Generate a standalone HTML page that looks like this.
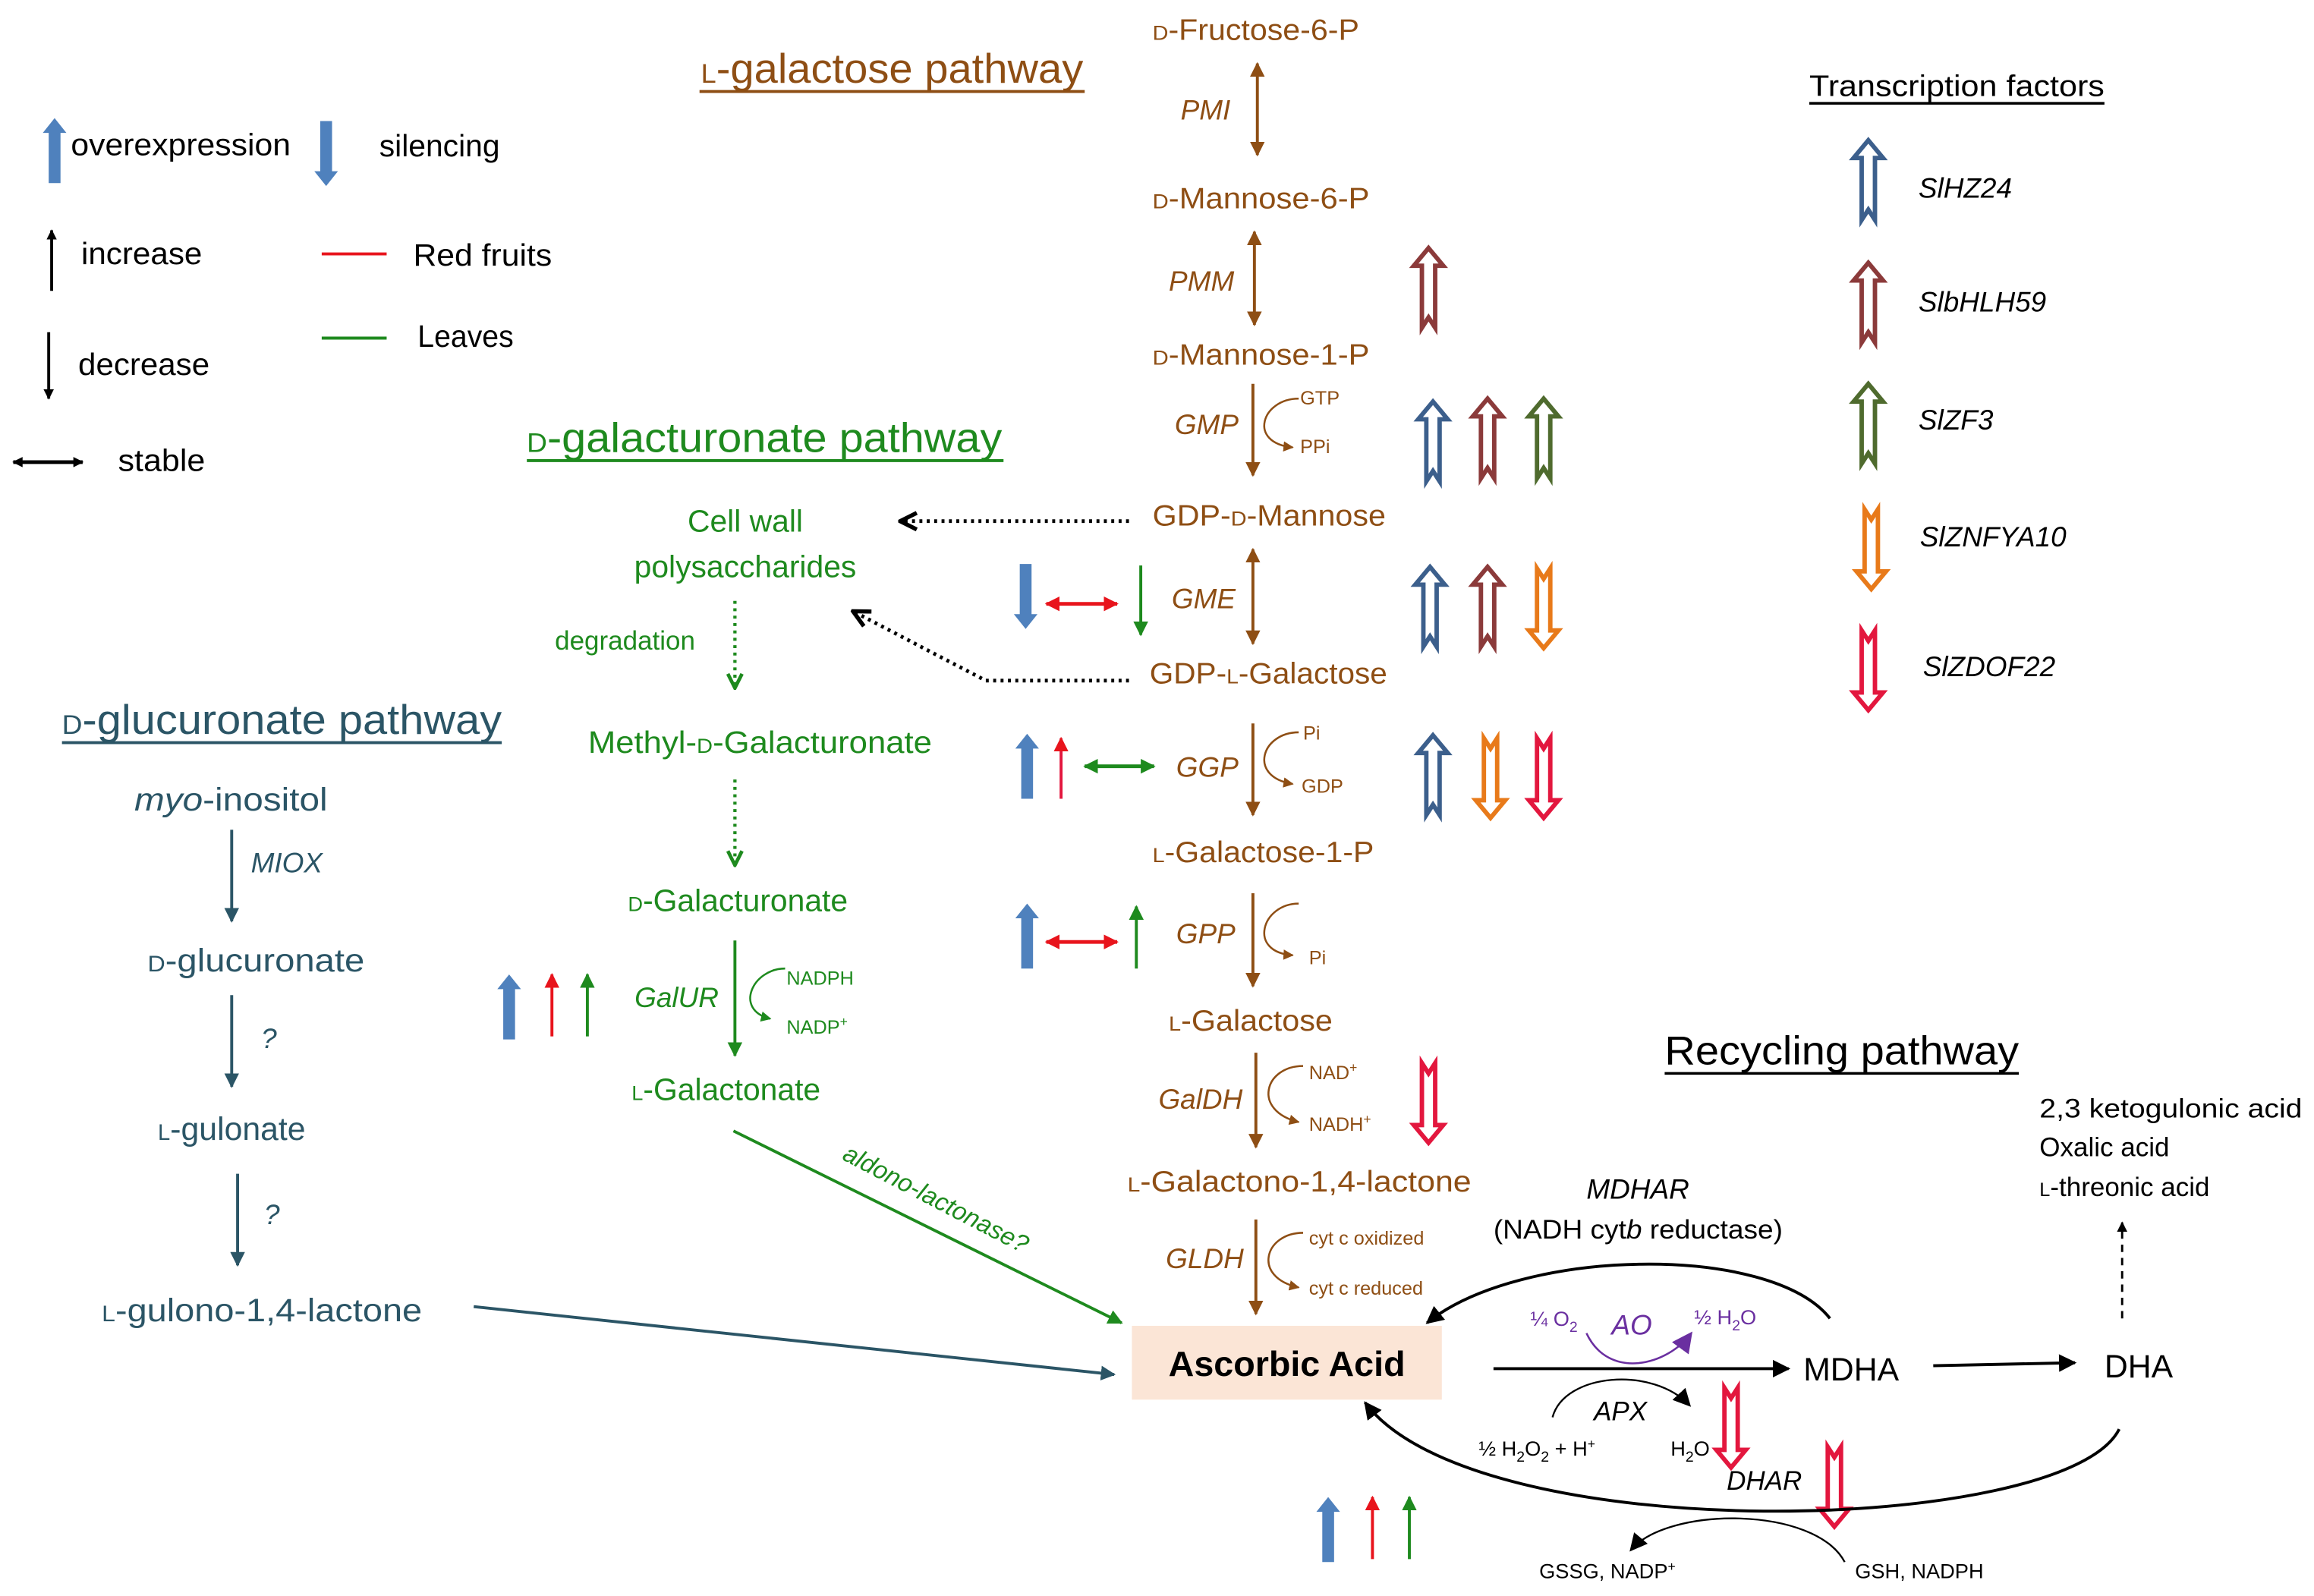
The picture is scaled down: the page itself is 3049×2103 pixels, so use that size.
<!DOCTYPE html>
<html><head><meta charset="utf-8"><style>
html,body{margin:0;padding:0;background:#fff;}
svg{display:block;}
text{font-family:"Liberation Sans",sans-serif;}
.br{fill:#8E4E14;}
.gr{fill:#1E8A1E;}
.tl{fill:#2B5566;}
.it{font-style:italic;}
</style></head><body>
<svg width="3049" height="2103" viewBox="0 0 1568 1081" preserveAspectRatio="none" xmlns="http://www.w3.org/2000/svg">
<defs>
<marker id="mk" viewBox="0 0 10 10" refX="9" refY="5" markerWidth="7" markerHeight="7" orient="auto-start-reverse" markerUnits="userSpaceOnUse"><path d="M0,0L10,5L0,10z" fill="#000"/></marker>
<marker id="mkB" viewBox="0 0 10 10" refX="9" refY="5" markerWidth="12" markerHeight="12" orient="auto-start-reverse" markerUnits="userSpaceOnUse"><path d="M0,0L10,5L0,10z" fill="#000"/></marker>
<marker id="mbr" viewBox="0 0 10 10" refX="9" refY="5" markerWidth="10" markerHeight="10" orient="auto-start-reverse" markerUnits="userSpaceOnUse"><path d="M0,0L10,5L0,10z" fill="#8E4E14"/></marker>
<marker id="mbrs" viewBox="0 0 10 10" refX="9" refY="5" markerWidth="7" markerHeight="7" orient="auto" markerUnits="userSpaceOnUse"><path d="M0,0L10,5L0,10z" fill="#8E4E14"/></marker>
<marker id="mgr" viewBox="0 0 10 10" refX="9" refY="5" markerWidth="10" markerHeight="10" orient="auto-start-reverse" markerUnits="userSpaceOnUse"><path d="M0,0L10,5L0,10z" fill="#1E8A1E"/></marker>
<marker id="mgrs" viewBox="0 0 10 10" refX="9" refY="5" markerWidth="7" markerHeight="7" orient="auto" markerUnits="userSpaceOnUse"><path d="M0,0L10,5L0,10z" fill="#1E8A1E"/></marker>
<marker id="mgro" viewBox="0 0 10 10" refX="9" refY="5" markerWidth="12" markerHeight="12" orient="auto" markerUnits="userSpaceOnUse"><path d="M1,1L9,5L1,9" fill="none" stroke="#1E8A1E" stroke-width="2"/></marker>
<marker id="mko" viewBox="0 0 10 10" refX="9" refY="5" markerWidth="14" markerHeight="14" orient="auto" markerUnits="userSpaceOnUse"><path d="M1,1L9,5L1,9" fill="none" stroke="#000" stroke-width="2"/></marker>
<marker id="mtl" viewBox="0 0 10 10" refX="9" refY="5" markerWidth="10" markerHeight="10" orient="auto" markerUnits="userSpaceOnUse"><path d="M0,0L10,5L0,10z" fill="#2B5566"/></marker>
<marker id="mrd" viewBox="0 0 10 10" refX="9" refY="5" markerWidth="10" markerHeight="10" orient="auto-start-reverse" markerUnits="userSpaceOnUse"><path d="M0,0L10,5L0,10z" fill="#E8141C"/></marker>
<marker id="mpu" viewBox="0 0 10 10" refX="9" refY="5" markerWidth="14" markerHeight="14" orient="auto" markerUnits="userSpaceOnUse"><path d="M0,0L10,5L0,10z" fill="#6A2FA0"/></marker>
<g id="tfu"><path d="M0,0 L10,12 L4.5,12 L4.5,54 L0,47 L-4.5,54 L-4.5,12 L-10,12 Z" fill="#fff" stroke-width="3" stroke-linejoin="miter"/></g>
<g id="tfd"><path d="M0,54 L10,42 L4.5,42 L4.5,0 L0,7 L-4.5,0 L-4.5,42 L-10,42 Z" fill="#fff" stroke-width="3" stroke-linejoin="miter"/></g>
<g id="bu"><path d="M-4,44 L-4,10 L-8,10 L0,0 L8,10 L4,10 L4,44Z" fill="#4F81BD"/></g>
<g id="bd"><path d="M-4,0 L-4,34 L-8,34 L0,44 L8,34 L4,34 L4,0Z" fill="#4F81BD"/></g>
</defs>

<!-- Legend -->
<use href="#bu" x="37" y="80"/>
<text x="48" y="105" font-size="21" textLength="149" lengthAdjust="spacingAndGlyphs">overexpression</text>
<use href="#bd" x="221" y="82"/>
<text x="257" y="106" font-size="21">silencing</text>
<line x1="35" y1="197" x2="35" y2="156" stroke="#000" stroke-width="2" marker-end="url(#mk)"/>
<text x="55" y="179" font-size="21" textLength="82" lengthAdjust="spacingAndGlyphs">increase</text>
<line x1="218" y1="172" x2="262" y2="172" stroke="#E8141C" stroke-width="2"/>
<text x="280" y="180" font-size="21" textLength="94" lengthAdjust="spacingAndGlyphs">Red fruits</text>
<line x1="218" y1="229" x2="262" y2="229" stroke="#1E8A1E" stroke-width="2"/>
<text x="283" y="235" font-size="21" textLength="65" lengthAdjust="spacingAndGlyphs">Leaves</text>
<line x1="33" y1="225" x2="33" y2="270" stroke="#000" stroke-width="2" marker-end="url(#mk)"/>
<text x="53" y="254" font-size="21" textLength="89" lengthAdjust="spacingAndGlyphs">decrease</text>
<line x1="9" y1="313" x2="56" y2="313" stroke="#000" stroke-width="2.5" marker-start="url(#mk)" marker-end="url(#mk)"/>
<text x="80" y="319" font-size="21" textLength="59" lengthAdjust="spacingAndGlyphs">stable</text>

<!-- L-galactose title -->
<text x="475" y="56" font-size="28" class="br" textLength="259" lengthAdjust="spacingAndGlyphs"><tspan font-size="18">L</tspan>-galactose pathway</text>
<line x1="474" y1="62" x2="735" y2="62" stroke="#8E4E14" stroke-width="2"/>

<!-- Brown column -->
<g font-size="20" class="br">
<text x="781" y="27" textLength="140" lengthAdjust="spacingAndGlyphs"><tspan font-size="14">D</tspan>-Fructose-6-P</text>
<text x="781" y="141" textLength="147" lengthAdjust="spacingAndGlyphs"><tspan font-size="14">D</tspan>-Mannose-6-P</text>
<text x="781" y="247" textLength="147" lengthAdjust="spacingAndGlyphs"><tspan font-size="14">D</tspan>-Mannose-1-P</text>
<text x="781" y="356" textLength="158" lengthAdjust="spacingAndGlyphs">GDP-<tspan font-size="14">D</tspan>-Mannose</text>
<text x="779" y="463" textLength="161" lengthAdjust="spacingAndGlyphs">GDP-<tspan font-size="14">L</tspan>-Galactose</text>
<text x="781" y="584" textLength="150" lengthAdjust="spacingAndGlyphs"><tspan font-size="14">L</tspan>-Galactose-1-P</text>
<text x="792" y="698" textLength="111" lengthAdjust="spacingAndGlyphs"><tspan font-size="14">L</tspan>-Galactose</text>
<text x="764" y="807" textLength="233" lengthAdjust="spacingAndGlyphs"><tspan font-size="14">L</tspan>-Galactono-1,4-lactone</text>
</g>
<g font-size="19" class="br it">
<text x="800" y="81">PMI</text>
<text x="792" y="197">PMM</text>
<text x="796" y="294">GMP</text>
<text x="794" y="412">GME</text>
<text x="797" y="526">GGP</text>
<text x="797" y="639">GPP</text>
<text x="785" y="751">GalDH</text>
<text x="790" y="859">GLDH</text>
</g>
<g stroke="#8E4E14" stroke-width="2" fill="none">
<line x1="852" y1="43" x2="852" y2="105" marker-start="url(#mbr)" marker-end="url(#mbr)"/>
<line x1="850" y1="157" x2="850" y2="220" marker-start="url(#mbr)" marker-end="url(#mbr)"/>
<line x1="849" y1="260" x2="849" y2="322" marker-end="url(#mbr)"/>
<line x1="849" y1="372" x2="849" y2="436" marker-start="url(#mbr)" marker-end="url(#mbr)"/>
<line x1="849" y1="490" x2="849" y2="552" marker-end="url(#mbr)"/>
<line x1="849" y1="605" x2="849" y2="668" marker-end="url(#mbr)"/>
<line x1="851" y1="713" x2="851" y2="777" marker-end="url(#mbr)"/>
<line x1="851" y1="826" x2="851" y2="890" marker-end="url(#mbr)"/>
<path d="M880,270 C855,270 845,300 876,303" stroke-width="1.3" marker-end="url(#mbrs)"/>
<path d="M880,496 C855,496 845,526 876,531" stroke-width="1.3" marker-end="url(#mbrs)"/>
<path d="M880,612 C855,612 845,645 876,647" stroke-width="1.3" marker-end="url(#mbrs)"/>
<path d="M883,722 C857,722 848,752 880,760" stroke-width="1.3" marker-end="url(#mbrs)"/>
<path d="M883,835 C857,835 848,865 880,872" stroke-width="1.3" marker-end="url(#mbrs)"/>
</g>
<g font-size="13" class="br">
<text x="881" y="274">GTP</text><text x="881" y="307">PPi</text>
<text x="883" y="501">Pi</text><text x="882" y="537">GDP</text>
<text x="887" y="653">Pi</text>
<text x="887" y="731">NAD<tspan font-size="9" dy="-5">+</tspan></text>
<text x="887" y="766">NADH<tspan font-size="9" dy="-5">+</tspan></text>
<text x="887" y="843">cyt c oxidized</text>
<text x="887" y="877">cyt c reduced</text>
</g>

<!-- TF arrows in diagram -->
<use href="#tfu" x="968" y="168" stroke="#8B3A3A"/>
<use href="#tfu" x="971" y="272" stroke="#3C5F8C"/>
<use href="#tfu" x="1008" y="270" stroke="#8B3A3A"/>
<use href="#tfu" x="1046" y="270" stroke="#4F6B2E"/>
<use href="#tfu" x="969" y="384" stroke="#3C5F8C"/>
<use href="#tfu" x="1008" y="384" stroke="#8B3A3A"/>
<use href="#tfd" x="1046" y="385" stroke="#E87A1A"/>
<use href="#tfu" x="971" y="498" stroke="#3C5F8C"/>
<use href="#tfd" x="1010" y="500" stroke="#E87A1A"/>
<use href="#tfd" x="1046" y="500" stroke="#E3173E"/>
<use href="#tfd" x="968" y="720" stroke="#E3173E"/>
<use href="#tfd" x="1173" y="940" stroke="#E3173E"/>
<use href="#tfd" x="1243" y="980" stroke="#E3173E"/>

<!-- TF legend -->
<text x="1226" y="65" font-size="20" fill="#000" textLength="200" lengthAdjust="spacingAndGlyphs">Transcription factors</text>
<line x1="1226" y1="70" x2="1426" y2="70" stroke="#000" stroke-width="1.8"/>
<use href="#tfu" x="1266" y="95" stroke="#3C5F8C"/>
<use href="#tfu" x="1266" y="178" stroke="#8B3A3A"/>
<use href="#tfu" x="1266" y="260" stroke="#4F6B2E"/>
<use href="#tfd" x="1268" y="345" stroke="#E87A1A"/>
<use href="#tfd" x="1266" y="427" stroke="#E3173E"/>
<g font-size="19" class="it" fill="#000">
<text x="1300" y="134">SlHZ24</text>
<text x="1300" y="211">SlbHLH59</text>
<text x="1300" y="291">SlZF3</text>
<text x="1301" y="370">SlZNFYA10</text>
<text x="1303" y="458">SlZDOF22</text>
</g>

<!-- D-galacturonate -->
<text x="357" y="306" font-size="28" class="gr" textLength="322" lengthAdjust="spacingAndGlyphs"><tspan font-size="18">D</tspan>-galacturonate pathway</text>
<line x1="357" y1="312" x2="680" y2="312" stroke="#1E8A1E" stroke-width="2"/>
<g font-size="21" class="gr" text-anchor="middle">
<text x="505" y="360">Cell wall</text>
<text x="505" y="391">polysaccharides</text>
<text x="515" y="510" textLength="233" lengthAdjust="spacingAndGlyphs">Methyl-<tspan font-size="14">D</tspan>-Galacturonate</text>
<text x="500" y="617"><tspan font-size="14">D</tspan>-Galacturonate</text>
<text x="492" y="745"><tspan font-size="14">L</tspan>-Galactonate</text>
</g>
<text x="376" y="440" font-size="18" class="gr">degradation</text>
<g stroke="#1E8A1E" stroke-width="2.2" fill="none">
<line x1="498" y1="407" x2="498" y2="466" stroke-dasharray="2,3" marker-end="url(#mgro)"/>
<line x1="498" y1="528" x2="498" y2="586" stroke-dasharray="2,3" marker-end="url(#mgro)"/>
<line x1="498" y1="637" x2="498" y2="715" stroke-width="2" marker-end="url(#mgr)"/>
<path d="M532,656 C510,656 497,684 522,690" stroke-width="1.3" marker-end="url(#mgrs)"/>
<line x1="497" y1="766" x2="760" y2="896" stroke-width="2" marker-end="url(#mgr)"/>
</g>
<text x="430" y="682" font-size="19" class="gr it">GalUR</text>
<text x="533" y="667" font-size="13" class="gr">NADPH</text>
<text x="533" y="700" font-size="13" class="gr">NADP<tspan font-size="9" dy="-5">+</tspan></text>
<text x="0" y="0" font-size="17" class="gr it" transform="translate(570,785) rotate(27.5)">aldono-lactonase?</text>
<g stroke="#000" stroke-width="2.5" fill="none">
<line x1="765" y1="353" x2="610" y2="353" stroke-dasharray="2,3" marker-end="url(#mko)"/>
<polyline points="765,461 668,461 578,414" stroke-dasharray="2,3" marker-end="url(#mko)"/>
</g>

<!-- expression markers -->
<use href="#bd" x="695" y="382"/>
<line x1="709" y1="409" x2="757" y2="409" stroke="#E8141C" stroke-width="2.5" marker-start="url(#mrd)" marker-end="url(#mrd)"/>
<line x1="773" y1="383" x2="773" y2="430" stroke="#1E8A1E" stroke-width="2" marker-end="url(#mgr)"/>
<use href="#bu" x="696" y="497"/>
<line x1="719" y1="541" x2="719" y2="500" stroke="#E3173E" stroke-width="2" marker-end="url(#mrd)"/>
<line x1="735" y1="519" x2="782" y2="519" stroke="#1E8A1E" stroke-width="2.5" marker-start="url(#mgr)" marker-end="url(#mgr)"/>
<use href="#bu" x="696" y="612"/>
<line x1="709" y1="638" x2="757" y2="638" stroke="#E8141C" stroke-width="2.5" marker-start="url(#mrd)" marker-end="url(#mrd)"/>
<line x1="770" y1="656" x2="770" y2="614" stroke="#1E8A1E" stroke-width="2" marker-end="url(#mgr)"/>
<use href="#bu" x="345" y="660"/>
<line x1="374" y1="702" x2="374" y2="660" stroke="#E8141C" stroke-width="2" marker-end="url(#mrd)"/>
<line x1="398" y1="702" x2="398" y2="660" stroke="#1E8A1E" stroke-width="2" marker-end="url(#mgr)"/>
<use href="#bu" x="900" y="1014"/>
<line x1="930" y1="1056" x2="930" y2="1014" stroke="#E8141C" stroke-width="2" marker-end="url(#mrd)"/>
<line x1="955" y1="1056" x2="955" y2="1014" stroke="#1E8A1E" stroke-width="2" marker-end="url(#mgr)"/>

<!-- D-glucuronate -->
<text x="42" y="497" font-size="28" class="tl" textLength="298" lengthAdjust="spacingAndGlyphs"><tspan font-size="18">D</tspan>-glucuronate pathway</text>
<line x1="42" y1="503" x2="340" y2="503" stroke="#2B5566" stroke-width="2"/>
<g font-size="22" class="tl">
<text x="91" y="549" textLength="131" lengthAdjust="spacingAndGlyphs"><tspan font-style="italic">myo</tspan>-inositol</text>
<text x="100" y="658" textLength="147" lengthAdjust="spacingAndGlyphs"><tspan font-size="15">D</tspan>-glucuronate</text>
<text x="107" y="772"><tspan font-size="15">L</tspan>-gulonate</text>
<text x="69" y="895" textLength="217" lengthAdjust="spacingAndGlyphs"><tspan font-size="15">L</tspan>-gulono-1,4-lactone</text>
</g>
<g font-size="19" class="tl it">
<text x="170" y="591">MIOX</text>
<text x="177" y="710">?</text>
<text x="179" y="829">?</text>
</g>
<g stroke="#2B5566" stroke-width="2">
<line x1="157" y1="562" x2="157" y2="624" marker-end="url(#mtl)"/>
<line x1="157" y1="674" x2="157" y2="736" marker-end="url(#mtl)"/>
<line x1="161" y1="795" x2="161" y2="857" marker-end="url(#mtl)"/>
<line x1="321" y1="885" x2="755" y2="931" marker-end="url(#mtl)"/>
</g>

<!-- Ascorbic acid -->
<rect x="767" y="898" width="210" height="50" fill="#FBE5D6"/>
<text x="872" y="932" font-size="24" font-weight="bold" text-anchor="middle">Ascorbic Acid</text>

<!-- Recycling -->
<text x="1128" y="721" font-size="27" textLength="240" lengthAdjust="spacingAndGlyphs">Recycling pathway</text>
<line x1="1128" y1="727" x2="1368" y2="727" stroke="#000" stroke-width="1.8"/>
<text x="1075" y="812" font-size="19" class="it">MDHAR</text>
<text x="1012" y="839" font-size="18" textLength="196" lengthAdjust="spacingAndGlyphs">(NADH cyt<tspan font-style="italic">b</tspan> reductase)</text>
<g font-size="18">
<text x="1382" y="757" textLength="178" lengthAdjust="spacingAndGlyphs">2,3 ketogulonic acid</text>
<text x="1382" y="783">Oxalic acid</text>
<text x="1382" y="810"><tspan font-size="13">L</tspan>-threonic acid</text>
<text x="1222" y="935" font-size="22">MDHA</text>
<text x="1426" y="933" font-size="22">DHA</text>
</g>
<g stroke="#000" stroke-width="2" fill="none">
<path d="M1240,893 C1200,842 1030,845 967,896" marker-end="url(#mkB)"/>
<line x1="1012" y1="927" x2="1212" y2="927" marker-end="url(#mkB)"/>
<line x1="1310" y1="925" x2="1406" y2="923" marker-end="url(#mkB)"/>
<line x1="1438" y1="893" x2="1438" y2="828" stroke-width="1.5" stroke-dasharray="5,4" marker-end="url(#mk)"/>
<path d="M1436,968 C1400,1040 1000,1050 925,950" marker-end="url(#mkB)"/>
<path d="M1052,960 C1060,930 1120,925 1145,952" stroke-width="1.2" marker-end="url(#mkB)"/>
<path d="M1250,1058 C1230,1020 1130,1020 1105,1050" stroke-width="1.2" marker-end="url(#mkB)"/>
</g>
<path d="M1075,903 C1090,935 1130,925 1146,903" stroke="#6A2FA0" stroke-width="1.3" fill="none" marker-end="url(#mpu)"/>
<g fill="#6A2FA0">
<text x="1037" y="898" font-size="14">¼ O<tspan font-size="10" dy="4">2</tspan></text>
<text x="1092" y="904" font-size="19" font-style="italic">AO</text>
<text x="1148" y="897" font-size="14">½ H<tspan font-size="10" dy="4">2</tspan><tspan dy="-4">O</tspan></text>
</g>
<text x="1080" y="962" font-size="18" class="it">APX</text>
<text x="1002" y="986" font-size="14">½ H<tspan font-size="10" dy="4">2</tspan><tspan dy="-4">O</tspan><tspan font-size="10" dy="4">2</tspan><tspan dy="-4"> + H</tspan><tspan font-size="9" dy="-5">+</tspan></text>
<text x="1132" y="986" font-size="14">H<tspan font-size="10" dy="4">2</tspan><tspan dy="-4">O</tspan></text>
<text x="1170" y="1009" font-size="18" class="it">DHAR</text>
<text x="1043" y="1069" font-size="14">GSSG, NADP<tspan font-size="9" dy="-5">+</tspan></text>
<text x="1257" y="1069" font-size="14">GSH, NADPH</text>
</svg>
</body></html>
